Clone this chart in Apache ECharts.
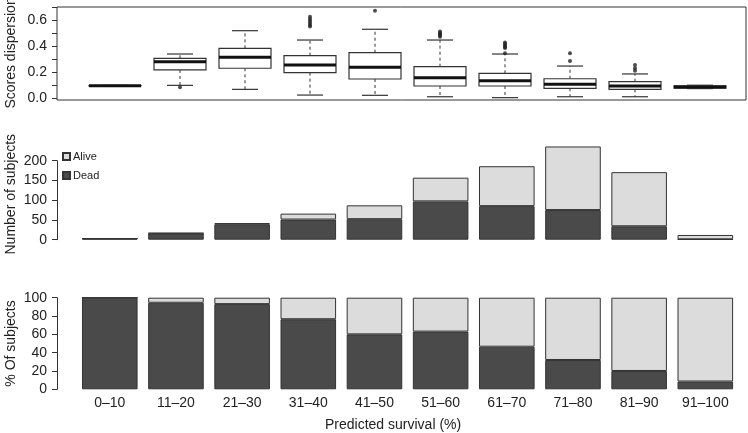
<!DOCTYPE html>
<html>
<head>
<meta charset="utf-8">
<script src="https://cdn.jsdelivr.net/npm/echarts@6/dist/echarts.min.js"></script>
<style>html,body{margin:0;padding:0;background:#fff}#c{width:748px;height:433px}</style>
</head>
<body>
<div id="c"></div>
<script>
var categories = ['0\u201310','11\u201320','21\u201330','31\u201340','41\u201350','51\u201360','61\u201370','71\u201380','81\u201390','91\u2013100'];

// Scores dispersion boxplot statistics
var boxMin = [0.095, 0.100, 0.069, 0.025, 0.023, 0.012, 0.005, 0.012, 0.012, 0.075];
var boxQ1  = [0.096, 0.219, 0.232, 0.198, 0.149, 0.095, 0.095, 0.077, 0.069, 0.078];
var boxMed = [0.097, 0.283, 0.317, 0.257, 0.239, 0.159, 0.136, 0.108, 0.095, 0.087];
var boxQ3  = [0.098, 0.309, 0.386, 0.329, 0.352, 0.244, 0.193, 0.151, 0.128, 0.097];
var boxMax = [0.100, 0.342, 0.522, 0.450, 0.533, 0.450, 0.342, 0.249, 0.188, 0.101];
var outliers = [
  [],
  [0.085],
  [],
  [0.630, 0.612, 0.596, 0.582, 0.566, 0.555],
  [0.677],
  [0.515, 0.505, 0.495, 0.485, 0.476],
  [0.430, 0.419, 0.408, 0.397, 0.388, 0.347],
  [0.347, 0.288],
  [0.257, 0.232, 0.213],
  []
];

// Number of subjects
var deadCounts  = [3, 16, 39, 51, 52, 97, 85, 75, 34, 1];
var aliveCounts = [0, 1, 3, 15, 35, 60, 101, 161, 137, 11];

// % of subjects
var deadPct  = [100, 94.5, 93, 76.5, 60, 63, 46.5, 32, 20, 8.5];
var alivePct = [0, 5.5, 7, 23.5, 40, 37, 53.5, 68, 80, 91.5];

var FONT = '"Liberation Sans", Arial, Helvetica, sans-serif';
var TXT = '#222';
var LINE = '#333';
var DARK = '#4a4a4a';
var LIGHT = '#dcdcdc';

var boxData = categories.map(function (c, i) {
  return [i, boxMin[i], boxQ1[i], boxMed[i], boxQ3[i], boxMax[i]];
});
var outlierData = [];
outliers.forEach(function (arr, i) {
  arr.forEach(function (v) { outlierData.push([i, v]); });
});

function renderBox(params, api) {
  var i = api.value(0);
  var pMin = api.coord([i, api.value(1)]);
  var pQ1 = api.coord([i, api.value(2)]);
  var pMed = api.coord([i, api.value(3)]);
  var pQ3 = api.coord([i, api.value(4)]);
  var pMax = api.coord([i, api.value(5)]);
  var band = api.size([1, 0])[0];
  var hw = band * 0.4, cw = band * 0.2;
  var cx = pMed[0];
  var solid = {stroke: LINE, lineWidth: 1.2};
  var dashed = {stroke: LINE, lineWidth: 1, lineDash: [3, 3]};
  return {
    type: 'group',
    children: [
      {type: 'line', shape: {x1: cx, y1: pQ1[1], x2: cx, y2: pMin[1]}, style: dashed},
      {type: 'line', shape: {x1: cx, y1: pQ3[1], x2: cx, y2: pMax[1]}, style: dashed},
      {type: 'line', shape: {x1: cx - cw, y1: pMin[1], x2: cx + cw, y2: pMin[1]}, style: solid},
      {type: 'line', shape: {x1: cx - cw, y1: pMax[1], x2: cx + cw, y2: pMax[1]}, style: solid},
      {type: 'rect', shape: {x: cx - hw, y: pQ3[1], width: 2 * hw, height: pQ1[1] - pQ3[1]},
        style: {fill: '#fff', stroke: LINE, lineWidth: 1.2}},
      {type: 'line', shape: {x1: cx - hw, y1: pMed[1], x2: cx + hw, y2: pMed[1]},
        style: {stroke: '#111', lineWidth: 3}}
    ]
  };
}

var axisLabelBase = {color: TXT, fontSize: 14, fontFamily: FONT, margin: 10};
var tickBase = {show: true, inside: false, length: 5, lineStyle: {color: LINE, width: 1}};
var nameStyle = {color: TXT, fontSize: 14, fontFamily: FONT};

var chart = echarts.init(document.getElementById('c'), null, {renderer: 'canvas'});
chart.setOption({
  animation: false,
  backgroundColor: '#fff',
  textStyle: {fontFamily: FONT},
  title: {
    text: 'Predicted survival (%)',
    left: 325, top: 418, padding: 0,
    textStyle: {color: TXT, fontSize: 14, fontWeight: 'normal', fontFamily: FONT}
  },
  legend: {
    data: ['Alive', 'Dead'],
    orient: 'vertical',
    left: 62, top: 151,
    itemWidth: 7, itemHeight: 7, itemGap: 8,
    icon: 'rect',
    selectedMode: false,
    padding: 0,
    textStyle: {color: TXT, fontSize: 11, fontFamily: FONT, padding: [0, 0, 0, -2]}
  },
  grid: [
    {left: 82.5, width: 650, top: 7.65, height: 90.65, outerBoundsMode: 'none', containLabel: false},
    {left: 76.7, width: 661.7, top: 160.7, height: 79, outerBoundsMode: 'none', containLabel: false},
    {left: 76.7, width: 661.7, top: 297.7, height: 91.6, outerBoundsMode: 'none', containLabel: false},
    {left: 57, width: 689, top: 7, height: 93, show: true, borderColor: LINE, borderWidth: 1,
      backgroundColor: 'transparent', outerBoundsMode: 'none', containLabel: false}
  ],
  xAxis: [
    {type: 'category', gridIndex: 0, data: categories, axisLine: {show: false}, axisTick: {show: false}, axisLabel: {show: false}},
    {type: 'category', gridIndex: 1, data: categories, axisLine: {show: false}, axisTick: {show: false}, axisLabel: {show: false}},
    {type: 'category', gridIndex: 2, data: categories, axisLine: {show: false}, axisTick: {show: false},
      axisLabel: {color: TXT, fontSize: 14, fontFamily: FONT, margin: 7, interval: 0}},
    {type: 'value', gridIndex: 3, show: false}
  ],
  yAxis: [
    {type: 'value', gridIndex: 0, min: 0, max: 0.7, interval: 0.1, offset: 25.5,
      axisLine: {show: false}, axisTick: tickBase, splitLine: {show: false},
      axisLabel: Object.assign({}, axisLabelBase, {formatter: function (v) {
        var k = Math.round(v * 10); return (k % 2 === 0 && k < 7) ? (k / 10).toFixed(1) : '';
      }}),
      name: 'Scores dispersion', nameLocation: 'middle', nameGap: 39, nameMoveOverlap: false, nameTextStyle: nameStyle},
    {type: 'value', gridIndex: 1, min: 0, max: 200, interval: 50, offset: 19.7,
      axisLine: {show: true, lineStyle: {color: LINE, width: 1}}, axisTick: tickBase, splitLine: {show: false},
      axisLabel: axisLabelBase,
      name: 'Number of subjects', nameLocation: 'middle', nameGap: 39, nameMoveOverlap: false,
      nameTextStyle: Object.assign({}, nameStyle, {padding: [0, 0, 0, 12]})},
    {type: 'value', gridIndex: 2, min: 0, max: 100, interval: 20, offset: 19.7,
      axisLine: {show: true, lineStyle: {color: LINE, width: 1}}, axisTick: tickBase, splitLine: {show: false},
      axisLabel: axisLabelBase,
      name: '% Of subjects', nameLocation: 'middle', nameGap: 39, nameMoveOverlap: false, nameTextStyle: nameStyle},
    {type: 'value', gridIndex: 3, show: false}
  ],
  series: [
    {type: 'custom', name: 'box', xAxisIndex: 0, yAxisIndex: 0, data: boxData,
      encode: {x: 0, y: [1, 2, 3, 4, 5]}, renderItem: renderBox, z: 3},
    {type: 'scatter', name: 'outliers', xAxisIndex: 0, yAxisIndex: 0, data: outlierData,
      symbol: 'circle', symbolSize: 4, itemStyle: {color: '#222'}, z: 4},
    {type: 'bar', name: 'Dead', xAxisIndex: 1, yAxisIndex: 1, stack: 'n', data: deadCounts,
      barCategoryGap: '16%', clip: false,
      itemStyle: {color: DARK, borderColor: LINE, borderWidth: 1}},
    {type: 'bar', name: 'Alive', xAxisIndex: 1, yAxisIndex: 1, stack: 'n', data: aliveCounts,
      barCategoryGap: '16%', clip: false,
      itemStyle: {color: LIGHT, borderColor: LINE, borderWidth: 1}},
    {type: 'bar', name: 'Dead', xAxisIndex: 2, yAxisIndex: 2, stack: 'p', data: deadPct,
      barCategoryGap: '16%', clip: false,
      itemStyle: {color: DARK, borderColor: LINE, borderWidth: 1}},
    {type: 'bar', name: 'Alive', xAxisIndex: 2, yAxisIndex: 2, stack: 'p', data: alivePct,
      barCategoryGap: '16%', clip: false,
      itemStyle: {color: LIGHT, borderColor: LINE, borderWidth: 1}}
  ]
});
</script>
</body>
</html>
